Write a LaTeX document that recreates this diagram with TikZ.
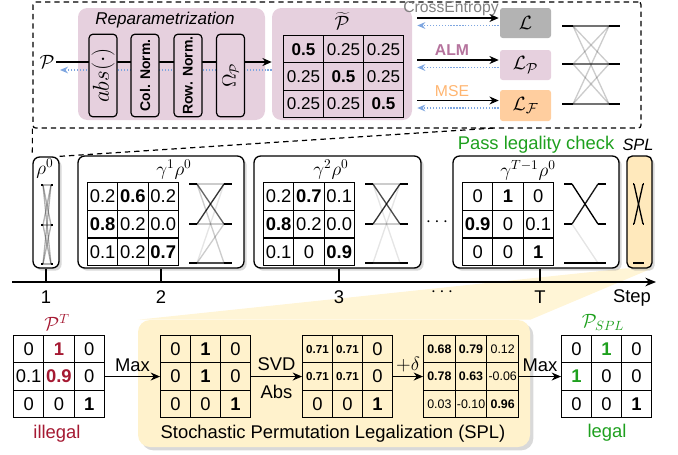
\documentclass[tikz,border=0pt]{standalone}
\usepackage{fontspec}
\setmainfont{Liberation Sans}
\usetikzlibrary{arrows.meta,shadows,matrix,calc,fit}
\definecolor{pinkbg}{HTML}{E6D0DE}
\definecolor{grayloss}{HTML}{B3B3B3}
\definecolor{orangeloss}{HTML}{FFCE9F}
\definecolor{yellowbg}{HTML}{FFF2CC}
\definecolor{splfill}{HTML}{FFE9BC}
\definecolor{bluearr}{HTML}{7EA6E0}
\definecolor{almcol}{HTML}{B5739D}
\definecolor{msecol}{HTML}{FFB570}
\definecolor{okgreen}{RGB}{30,160,30}
\definecolor{badred}{RGB}{165,25,50}
\definecolor{cegray}{HTML}{808080}
\newcommand\fsz[1]{\fontsize{#1}{#1}\selectfont}
% crossing graphic: x0, x1, stub, y1, y2, y3, list i/j/w
\newcommand\permgfx[7]{%
  \foreach \yy in {#4,#5,#6}{%
    \draw[line width=1pt] (#1,\yy) -- (#1+#3,\yy);
    \draw[line width=1pt] (#2-#3,\yy) -- (#2,\yy);
  }%
  \foreach \i/\j/\w in {#7}{%
    \pgfmathsetmacro\ya{{#4,#5,#6}[\i-1]}%
    \pgfmathsetmacro\yb{{#4,#5,#6}[\j-1]}%
    \draw[line width=1pt, draw opacity=\w] (#1+#3,\ya) -- (#2-#3,\yb);
  }%
}
\tikzset{
  fwd/.style={line width=0.9pt, -{Stealth[length=7pt,width=6pt]}},
  back/.style={draw=bluearr, line width=0.9pt, dash pattern=on 1pt off 1.2pt, -{Stealth[length=6pt,width=5pt,fill=bluearr]}},
  dashline/.style={line width=0.9pt, dash pattern=on 4pt off 3pt},
  sbox/.style={draw, line width=0.9pt, fill=pinkbg, rounded corners=3pt, minimum width=21pt, minimum height=62pt, inner sep=0pt},
  midbox/.style={draw, line width=1pt, fill=white, rounded corners=5pt, inner sep=0pt,
     drop shadow={shadow xshift=2pt, shadow yshift=-2pt, opacity=0.3}},
  pmat/.style n args={3}{matrix of nodes, inner sep=0pt, outer sep=0pt, anchor=north west,
     column sep=-0.8pt, row sep=-0.8pt,
     nodes={draw, line width=0.8pt, minimum width=#1, minimum height=#2, inner sep=0pt, outer sep=0pt, font=#3, anchor=center}},
  lossbox/.style={rounded corners=2pt, inner sep=0pt},
  txt/.style={font=\fsz{13.8}, inner sep=0pt},
}
\begin{document}
\begin{tikzpicture}[x=0.75pt, y=-0.75pt]
\useasboundingbox (0,0) rectangle (678,454);

%% ---------------- top zoom box ----------------
\node[fit={(33,2)(641,128)}, draw, dashline, rounded corners=2pt, inner sep=0pt] (topbox) {};

\node[fit={(78,8)(265,120)}, fill=pinkbg, rounded corners=7pt, inner sep=0pt] (rep) {};
\node[font=\fsz{12.8}\itshape, inner sep=0pt] (reptitle) at (165,20) {Reparametrization};
\node[fit={(272,8)(412,120)}, fill=pinkbg, rounded corners=7pt, inner sep=0pt] (ptb) {};

\node[font=\fsz{15}, inner sep=1pt] (P) at (47,62) {$\mathcal{P}$};
\coordinate (bk1) at (60,70);
\draw[fwd] (P.east) -- (P.east -| ptb.west);
\draw[back] (ptb.west |- bk1) -- (bk1);

\node[sbox] (s1) at (103,75.5) {};
\node[sbox] (s2) at (145,75.5) {};
\node[sbox] (s3) at (188,75.5) {};
\node[sbox] (s4) at (230.5,75.5) {};
\node[rotate=90, font=\fsz{16}] at (s1) {$abs(\cdot)$};
\node[rotate=90, font=\fsz{10.5}\bfseries] at (s2) {Col. Norm.};
\node[rotate=90, font=\fsz{10.5}\bfseries] at (s3) {Row. Norm.};
\node[rotate=90, font=\fsz{14}] at (s4) {$\Omega_{\mathcal{P}}$};

\node[font=\fsz{14}, inner sep=0pt] (pttitle) at (342,21) {$\widetilde{\mathcal{P}}$};
\matrix (mp) [pmat={30pt}{20.5pt}{\fsz{12.8}}] at (283,35) {
  \textbf{0.5} & 0.25 & 0.25 \\
  0.25 & \textbf{0.5} & 0.25 \\
  0.25 & 0.25 & \textbf{0.5} \\
};

\node[fit={(500,8)(551,38)}, lossbox, fill=grayloss] (lossL) {};
\node[fit={(500,50)(551,80)}, lossbox, fill=pinkbg] (lossP) {};
\node[fit={(500,90)(551,121)}, lossbox, fill=orangeloss] (lossF) {};
\node[font=\fsz{15}] at (lossL) {$\mathcal{L}$};
\node[font=\fsz{15}] at (lossP) {$\mathcal{L}_{\mathcal{P}}$};
\node[font=\fsz{15}] at (lossF) {$\mathcal{L}_{\mathcal{F}}$};

\foreach \n in {lossL,lossP,lossF}{
  \draw[fwd] ($(ptb.east |- \n.west)+(5,-5)$) -- ($(\n.west)+(-1,-5)$);
  \draw[back] ($(\n.west)+(-1,2.5)$) -- ($(ptb.east |- \n.west)+(5,2.5)$);
}
\node[font=\fsz{11.8}, text=cegray, inner sep=0pt] (ce) at (451,9) {CrossEntropy};
\node[font=\fsz{11.8}\bfseries, text=almcol, inner sep=0pt] (alm) at (452,50) {ALM};
\node[font=\fsz{11.8}, text=msecol, inner sep=0pt] (mse) at (452,91) {MSE};

\permgfx{562}{620}{11}{26}{64}{104}{1/1/0.55,1/2/0.2,1/3/0.2,2/1/0.2,2/2/0.55,2/3/0.2,3/1/0.2,3/2/0.2,3/3/0.55}

%% ---------------- callout lines ----------------
\node[fit={(33,157)(59,268)}, midbox] (rho0) {};
\coordinate (zr) at (495,128);
\draw[dashline] (topbox.south west) -- (rho0.north west);
\draw[dashline] (rho0.north east) -- (zr);

%% ---------------- SPL trapezoid ----------------
\node[fit={(627,156)(652,268)}, inner sep=0pt] (splghost) {};
\node[fit={(138,320)(530,447)}, inner sep=0pt] (botghost) {};
\fill[yellowbg, opacity=0.8] (splghost.south west) -- (splghost.south east) -- (botghost.north east) -- (botghost.north west) -- cycle;

%% ---------------- middle row ----------------
\node[font=\fsz{14}, inner sep=0pt] (rho0lab) at (45,169) {$\rho^0$};
\permgfx{41}{53}{2}{185}{225}{264}{1/1/0.3,1/2/0.3,1/3/0.3,2/1/0.3,2/2/0.3,2/3/0.3,3/1/0.3,3/2/0.3,3/3/0.3}

\node[fit={(78,156)(244,268)}, midbox] (b2) {};
\node[fit={(254,156)(421,268)}, midbox] (b3) {};
\node[fit={(453,156)(619,268)}, midbox] (bT) {};
\node[fit={(627,156)(652,268)}, draw, line width=1pt, fill=splfill, rounded corners=4pt, inner sep=0pt,
      drop shadow={shadow xshift=2pt, shadow yshift=-2pt, opacity=0.3}] (spl) {};

\node[font=\fsz{14}, inner sep=0pt] (l2) at (174,170) {$\gamma^1\rho^0$};
\node[font=\fsz{14}, inner sep=0pt] (l3) at (331,170) {$\gamma^2\rho^0$};
\node[font=\fsz{14}, inner sep=0pt] (lT) at (528,170) {$\gamma^{T-1}\rho^0$};

\matrix (m2) [pmat={22.7pt}{20.8pt}{\fsz{13.8}}] at (87,182) {
  0.2 & \textbf{0.6} & 0.2 \\
  \textbf{0.8} & 0.2 & 0.0 \\
  0.1 & 0.2 & \textbf{0.7} \\
};
\matrix (m3) [pmat={22.7pt}{20.8pt}{\fsz{13.8}}] at (263,182) {
  0.2 & \textbf{0.7} & 0.1 \\
  \textbf{0.8} & 0.2 & 0.0 \\
  0.1 & 0 & \textbf{0.9} \\
};
\matrix (mT) [pmat={22.7pt}{20.8pt}{\fsz{13.8}}] at (462,182) {
  0 & \textbf{1} & 0 \\
  \textbf{0.9} & 0 & 0.1 \\
  0 & 0 & \textbf{1} \\
};

\permgfx{189}{232}{8}{184}{224}{263}{1/1/0.2,1/2/0.6,1/3/0.2,2/1/0.8,2/2/0.2,3/1/0.1,3/2/0.2,3/3/0.7}
\permgfx{365}{408}{8}{184}{224}{263}{1/1/0.2,1/2/0.7,1/3/0.1,2/1/0.8,2/2/0.2,3/1/0.1,3/3/0.9}
\permgfx{564}{606}{8}{184}{224}{263}{1/2/1,2/1/0.9,2/3/0.1,3/3/1}
\permgfx{633}{644}{1}{184}{224}{263}{1/2/1,2/1/1,3/3/1}

\node[font=\fsz{14}] (dots1) at (437,222) {$\cdots$};
\node[txt, text=okgreen] (pass) at (536,145) {Pass legality check};
\node[font=\fsz{12.3}\itshape, inner sep=0pt] (spllab) at (638,145) {SPL};

%% ---------------- axis ----------------
\coordinate (axL) at (12,282);
\coordinate (axR) at (656,282);
\draw[line width=1pt, -{Stealth[length=8pt,width=6.5pt]}] (axL) -- (axR);
\draw[line width=1pt] (rho0.south) -- (rho0.south |- axL);
\draw[line width=1pt] (b2.south) -- (b2.south |- axL);
\draw[line width=1pt] ([xshift=1pt]b3.south) -- ([xshift=1pt]b3.south |- axL);
\draw[line width=1pt] ([xshift=3pt]bT.south) -- ([xshift=3pt]bT.south |- axL);
\node[txt] (t1) at (46,297) {1};
\node[txt] (t2) at (161,297) {2};
\node[txt] (t3) at (339,297) {3};
\node[font=\fsz{14}] (dots2) at (442,292) {$\cdots$};
\node[txt] (tT) at (540,297) {T};
\node[txt] (step) at (632,298) {Step};

%% ---------------- bottom ----------------
\node[fit={(138,320)(530,447)}, fill=yellowbg, rounded corners=9pt, inner sep=0pt,
      drop shadow={shadow xshift=2.5pt, shadow yshift=-2.5pt, opacity=0.3}] (bot) {};

\node[font=\fsz{14}, text=badred, inner sep=0pt] (ptlab) at (57,322) {$\mathcal{P}^T$};
\matrix (mPT) [pmat={22.7pt}{20.5pt}{\fsz{13.8}}] at (13,335) {
  0 & |[text=badred, font=\fsz{13.8}\bfseries]| 1 & 0 \\
  0.1 & |[text=badred, font=\fsz{13.8}\bfseries]| 0.9 & 0 \\
  0 & 0 & \textbf{1} \\
};
\node[txt, text=badred] (illegal) at (57,434) {illegal};

\matrix (mb1) [pmat={22.5pt}{20.5pt}{\fsz{13.8}}] at (160,335) {
  0 & \textbf{1} & 0 \\
  0 & \textbf{1} & 0 \\
  0 & 0 & \textbf{1} \\
};
\matrix (mb2) [pmat={22.5pt}{20.5pt}{\fsz{13.8}}] at (302,335) {
  |[font=\fsz{8.7}\bfseries]| 0.71 & |[font=\fsz{8.7}\bfseries]| 0.71 & 0 \\
  |[font=\fsz{8.7}\bfseries]| 0.71 & |[font=\fsz{8.7}\bfseries]| 0.71 & 0 \\
  0 & 0 & \textbf{1} \\
};
\matrix (mb3) [pmat={23.75pt}{20.5pt}{\fsz{9.3}}] at (423,335) {
  \textbf{0.68} & \textbf{0.79} & 0.12 \\
  \textbf{0.78} & \textbf{0.63} & -0.06 \\
  0.03 & -0.10 & \textbf{0.96} \\
};
\node[font=\fsz{14}, text=okgreen, inner sep=0pt] (psplab) at (603,322) {$\mathcal{P}_{SPL}$};
\matrix (mb4) [pmat={22.5pt}{20.5pt}{\fsz{13.8}}] at (561,335) {
  0 & |[text=okgreen, font=\fsz{13.8}\bfseries]| 1 & 0 \\
  |[text=okgreen, font=\fsz{13.8}\bfseries]| 1 & 0 & 0 \\
  0 & 0 & \textbf{1} \\
};
\node[txt, text=okgreen] (legal) at (607,433) {legal};

\draw[fwd] (mPT.east) -- (mb1.west) node[midway, above, font=\fsz{13.8}, inner sep=3pt] {Max};
\draw[fwd] (mb1.east) -- (mb2.west)
   node[midway, above, font=\fsz{13.8}, inner sep=4pt] {SVD}
   node[midway, below, font=\fsz{13.8}, inner sep=6pt] {Abs};
\draw[fwd] (mb2.east) -- (mb3.west) node[midway, above, font=\fsz{14}, inner sep=3pt] {$+\delta$};
\draw[fwd] (mb3.east) -- (mb4.west) node[midway, above, font=\fsz{13.8}, inner sep=3pt] {Max};

\node[txt] (spltitle) at (333,434) {Stochastic Permutation Legalization (SPL)};
\end{tikzpicture}
\end{document}
